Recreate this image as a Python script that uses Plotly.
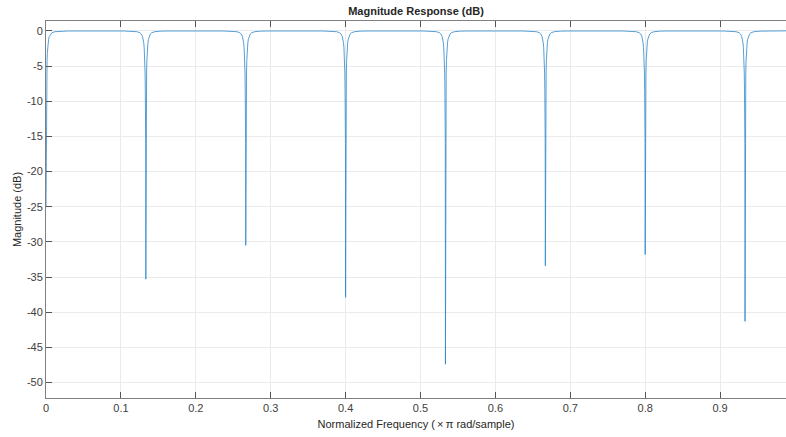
import plotly.graph_objects as go

# Notch centres (normalized frequency) and depths (dB)
notch_freq = [0.0, 0.1333, 0.2667, 0.4000, 0.5333, 0.6667, 0.8000, 0.9333]
notch_depth = [-25.0, -35.3, -30.5, -37.9, -47.4, -33.4, -31.8, -41.3]

# Shape of one notch flank: offset from centre vs level (dB)
flank_offset = [0.0300, 0.0200, 0.0120, 0.0080, 0.0060, 0.0045, 0.0035, 0.0028,
                0.0022, 0.0018, 0.0014, 0.0010, 0.0007, 0.0004, 0.0002]
flank_db = [-0.02, -0.04, -0.12, -0.26, -0.46, -0.78, -1.2, -1.7,
            -2.4, -3.1, -4.2, -6.0, -8.6, -12.0, -16.0]

# Tick labels
x_tickvals = [0, 0.1, 0.2, 0.3, 0.4, 0.5, 0.6, 0.7, 0.8, 0.9]
x_ticktext = ["0", "0.1", "0.2", "0.3", "0.4", "0.5", "0.6", "0.7", "0.8", "0.9"]
y_tickvals = [0, -5, -10, -15, -20, -25, -30, -35, -40, -45, -50]
y_ticktext = ["0", "-5", "-10", "-15", "-20", "-25", "-30", "-35", "-40", "-45", "-50"]

x_end = 0.988

xs, ys = [], []
for c, d in zip(notch_freq, notch_depth):
    if c > 0:
        for o, v in zip(flank_offset, flank_db):
            xs.append(c - o)
            ys.append(max(v, d))
    xs.append(c)
    ys.append(d)
    for o, v in reversed(list(zip(flank_offset, flank_db))):
        xs.append(c + o)
        ys.append(max(v, d))
xs.append(x_end)
ys.append(0.0)

fig = go.Figure()
fig.add_trace(go.Scatter(x=xs, y=ys, mode="lines",
                         line=dict(color="#2A86CC", width=0.8),
                         hoverinfo="skip", showlegend=False))

font_fam = "Liberation Sans, Arial, sans-serif"
axis_col = "#808080"
fig.update_layout(
    width=786, height=437,
    margin=dict(l=46, r=0, t=21, b=39),
    paper_bgcolor="white", plot_bgcolor="white",
    font=dict(family=font_fam, size=11, color="#262626"),
    title=dict(text="<b>Magnitude Response (dB)</b>", x=(46 + 786) / 2 / 786,
               xanchor="center", y=1 - 11 / 437, yanchor="middle",
               font=dict(size=11, color="#262626", family=font_fam)),
    xaxis=dict(range=[0, x_end], tickvals=x_tickvals, ticktext=x_ticktext,
               showgrid=True, gridcolor="#EBEBEB", gridwidth=1,
               zeroline=False, showline=True, linecolor=axis_col, linewidth=1,
               mirror="ticks", ticks="inside", ticklen=6, tickcolor="#555555",
               title=dict(text="Normalized Frequency (\u2009\u00d7\u2009\u03c0 rad/sample)",
                          standoff=7, font=dict(size=11)),
               tickfont=dict(size=11, color="#404040")),
    yaxis=dict(range=[-52.2, 1.4], tickvals=y_tickvals, ticktext=y_ticktext,
               showgrid=True, gridcolor="#EBEBEB", gridwidth=1,
               zeroline=False, showline=True, linecolor=axis_col, linewidth=1,
               ticks="inside", ticklen=6, tickcolor="#555555",
               title=dict(text="Magnitude (dB)", standoff=3, font=dict(size=11)),
               tickfont=dict(size=11, color="#404040")),
)

fig.write_html("out.html")
